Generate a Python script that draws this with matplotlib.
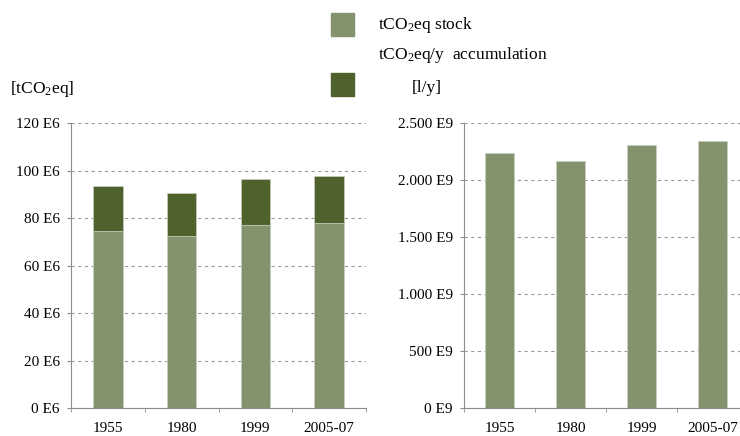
import matplotlib
matplotlib.use("Agg")
from matplotlib import pyplot as plt
from matplotlib.ticker import FixedLocator, FuncFormatter
from matplotlib.patches import Rectangle

# data
years = ["1955", "1980", "1999", "2005-07"]
stock = [74.6, 72.4, 76.9, 78.0]            # E6 tCO2eq
accumulation = [18.9, 18.0, 19.4, 19.7]     # E6 tCO2eq/y (stacked on top)
water = [2240, 2170, 2307, 2345]            # E9 l/y

light = "#84926E"
dark = "#4F612D"
grid_c = "#9a9a9a"
spine_c = "#8c8c8c"

plt.rcParams["font.family"] = "serif"
plt.rcParams["font.serif"] = ["Liberation Serif", "DejaVu Serif"]
plt.rcParams["mathtext.fontset"] = "custom"
plt.rcParams["mathtext.rm"] = "Liberation Serif"
plt.rcParams["mathtext.it"] = "Liberation Serif"
plt.rcParams["mathtext.bf"] = "Liberation Serif"
plt.rcParams["font.size"] = 11

fig = plt.figure(figsize=(7.4, 4.36), dpi=100)

ax1 = fig.add_axes([71 / 740, 1 - 408 / 436, 295 / 740, 285 / 436])
ax2 = fig.add_axes([464 / 740, 1 - 408 / 436, 284 / 740, 285 / 436])

x = range(len(years))


def style(ax, ymax, step):
    ax.set_xlim(-0.5, len(years) - 0.5)
    ax.set_ylim(0, ymax)
    ax.set_yticks([i * step for i in range(int(ymax / step) + 1)])
    ax.yaxis.grid(True, linestyle=(0, (3, 3)), color=grid_c, linewidth=0.8)
    ax.set_axisbelow(True)
    ax.spines["top"].set_visible(False)
    ax.spines["right"].set_visible(False)
    ax.spines["left"].set_color(spine_c)
    ax.spines["bottom"].set_color(spine_c)
    ax.set_xticks(list(x))
    ax.set_xticklabels(years)
    ax.xaxis.set_minor_locator(FixedLocator([i - 0.5 for i in range(len(years) + 1)]))
    ax.tick_params(axis="x", which="major", length=0, pad=10)
    ax.tick_params(axis="x", which="minor", length=3, color=spine_c)
    ax.tick_params(axis="y", length=3, color=spine_c, pad=5)


ax1.bar(x, stock, width=0.4, color=light, edgecolor="#c9d0bd", linewidth=0.5)
ax1.bar(x, accumulation, width=0.4, bottom=stock, color=dark, edgecolor="#c9d0bd", linewidth=0.5)
style(ax1, 120, 20)
ax1.yaxis.set_major_formatter(FuncFormatter(lambda v, p: "%d E6" % v))

ax2.bar(x, water, width=0.4, color=light, edgecolor="#c9d0bd", linewidth=0.5)
style(ax2, 2500, 500)
ax2.yaxis.set_major_formatter(FuncFormatter(lambda v, p: ("{:,}".format(int(v))).replace(",", ".") + " E9"))

# legend / unit labels
fig.patches.append(Rectangle((331 / 740, 1 - 36 / 436), 23 / 740, 23 / 436,
                             transform=fig.transFigure, color=light))
fig.patches.append(Rectangle((331 / 740, 1 - 96 / 436), 23 / 740, 23 / 436,
                             transform=fig.transFigure, color=dark))
fig.text(378 / 740, 1 - 25 / 436, "tCO$_2$eq stock", va="center", ha="left", fontsize=12.5)
fig.text(378 / 740, 1 - 55 / 436, "tCO$_2$eq/y  accumulation", va="center", ha="left", fontsize=12.5)
fig.text(412 / 740, 1 - 88 / 436, "[l/y]", va="center", ha="left", fontsize=12.5)
fig.text(10 / 740, 1 - 89 / 436, "[tCO$_2$eq]", va="center", ha="left", fontsize=12.5)

fig.savefig("out.png", dpi=100)
